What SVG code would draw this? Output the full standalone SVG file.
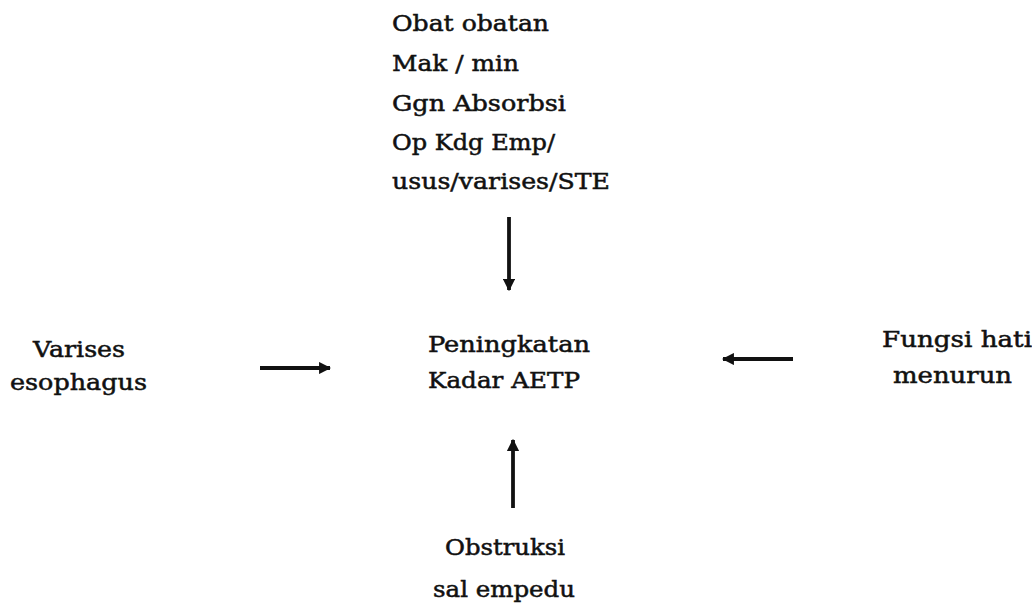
<svg xmlns="http://www.w3.org/2000/svg" width="1032" height="606" viewBox="0 0 1032 606">
<style>
text{font-family:"DejaVu Serif","Liberation Serif",serif;font-size:22px;fill:#111;stroke:#111;stroke-width:0.5}
.c{stroke:#111;stroke-width:3.8;fill:none}
</style>
<defs>
<marker id="ah" viewBox="0 0 10 10" refX="9" refY="5" markerWidth="3.2" markerHeight="3.2" orient="auto" markerUnits="strokeWidth">
<path d="M0,0 L10,5 L0,10 z" fill="#111"/>
</marker>
</defs>
<rect width="1032" height="606" fill="#fff"/>
<g id="node-top">
<text x="392" y="31" textLength="157" lengthAdjust="spacingAndGlyphs">Obat obatan</text>
<text x="392" y="71" textLength="127" lengthAdjust="spacingAndGlyphs">Mak / min</text>
<text x="392" y="111" textLength="174" lengthAdjust="spacingAndGlyphs">Ggn Absorbsi</text>
<text x="392" y="150" textLength="163" lengthAdjust="spacingAndGlyphs">Op Kdg Emp/</text>
<text x="392" y="189" textLength="218" lengthAdjust="spacingAndGlyphs">usus/varises/STE</text>
</g>
<g id="node-center">
<text x="428" y="352" textLength="162" lengthAdjust="spacingAndGlyphs">Peningkatan</text>
<text x="428" y="388" textLength="152" lengthAdjust="spacingAndGlyphs">Kadar AETP</text>
</g>
<g id="node-left">
<text x="33" y="357" textLength="92" lengthAdjust="spacingAndGlyphs">Varises</text>
<text x="10" y="390" textLength="137" lengthAdjust="spacingAndGlyphs">esophagus</text>
</g>
<g id="node-right">
<text x="882" y="347" textLength="150" lengthAdjust="spacingAndGlyphs">Fungsi hati</text>
<text x="893" y="383" textLength="119" lengthAdjust="spacingAndGlyphs">menurun</text>
</g>
<g id="node-bottom">
<text x="445" y="555" textLength="120" lengthAdjust="spacingAndGlyphs">Obstruksi</text>
<text x="433" y="597" textLength="142" lengthAdjust="spacingAndGlyphs">sal empedu</text>
</g>
<g id="connectors">
<line class="c" x1="509" y1="217" x2="509" y2="290" marker-end="url(#ah)"/>
<line class="c" x1="260" y1="368" x2="330" y2="368" marker-end="url(#ah)"/>
<line class="c" x1="793" y1="359" x2="723" y2="359" marker-end="url(#ah)"/>
<line class="c" x1="513" y1="508" x2="513" y2="440" marker-end="url(#ah)"/>
</g>
</svg>
